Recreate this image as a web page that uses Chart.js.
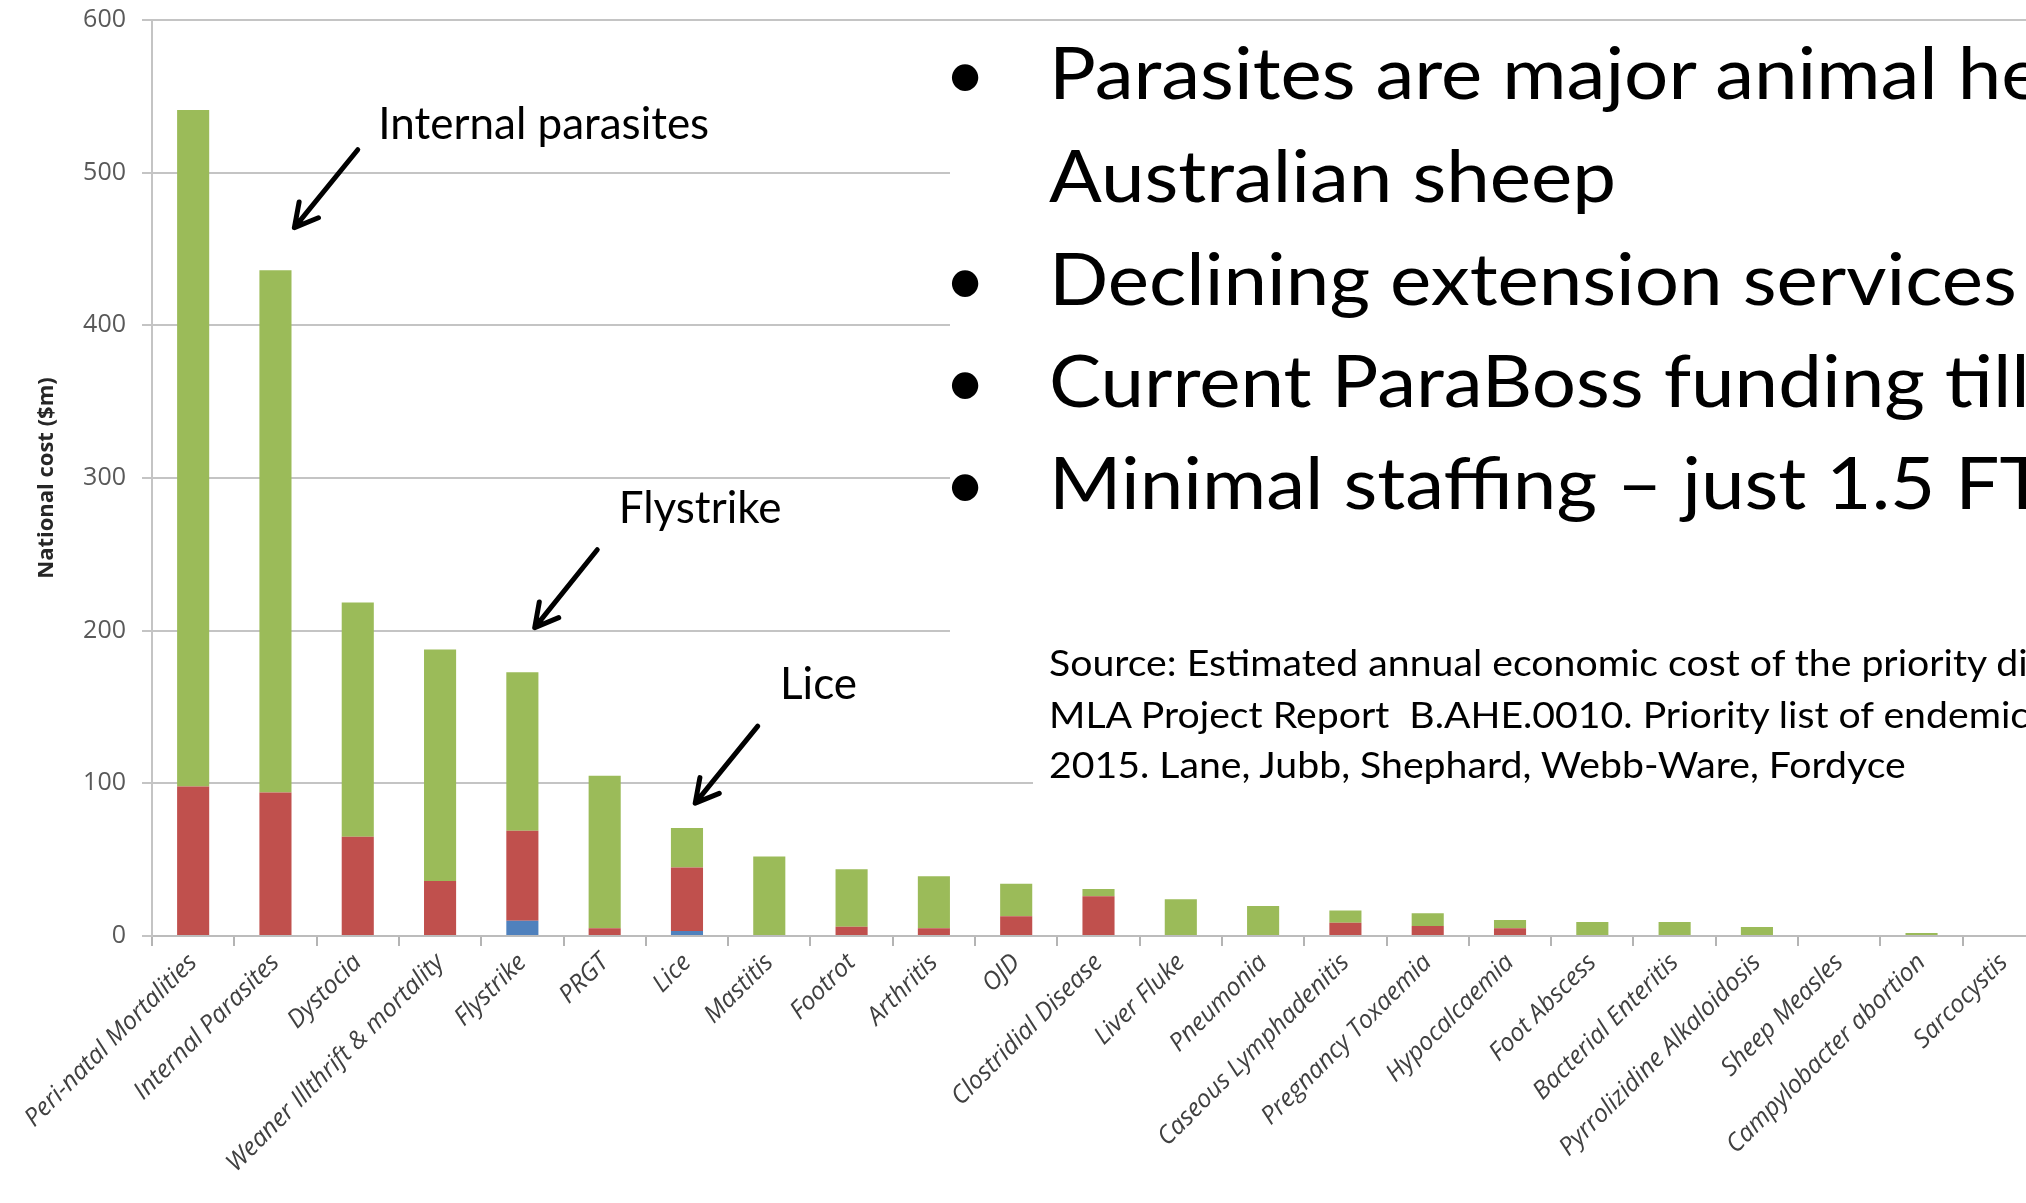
<!DOCTYPE html>
<html>
<head>
<meta charset="utf-8">
<title>National cost of sheep diseases</title>
<script src="https://cdn.jsdelivr.net/npm/chart.js@4.4.1/dist/chart.umd.min.js"></script>
<style>
    html, body { margin: 0; padding: 0; background: #fff; overflow: hidden; }
    #stage { position: relative; width: 2026px; height: 1203px; overflow: hidden; background: #fff; }
    #costChart { position: absolute; left: 0; top: 0; }
    #slideText { position: absolute; left: 0; top: 0; }
</style>
</head>
<body>
<div id="stage">
    <canvas id="costChart" width="2100" height="1203"></canvas>
    <svg id="slideText" width="2026" height="1203" xmlns="http://www.w3.org/2000/svg">
        <!-- text boxes of the slide sit on top of the chart -->
        <rect x="950" y="27" width="1076" height="673" fill="#fff"/>
        <rect x="1033" y="640" width="993" height="160" fill="#fff"/>
        <g font-family="Lato, 'Open Sans', sans-serif" font-size="71" fill="#000" text-anchor="middle">
            <text x="965" y="99">•</text>
            <text x="965" y="305">•</text>
            <text x="965" y="407">•</text>
            <text x="965" y="509">•</text>
        </g>
        <g id="bulletLines" font-family="Lato, 'Open Sans', sans-serif" font-size="71" fill="#000">
            <text x="0" y="99">Parasites are major animal health issues for</text>
            <text x="0" y="202">Australian sheep</text>
            <text id="decliningLine" x="0" y="305">Declining extension services</text>
            <text x="0" y="407">Current ParaBoss funding till</text>
            <text x="0" y="509">Minimal staffing – just 1.5 FTE</text>
        </g>
        <g id="sourceLines" font-family="Lato, 'Open Sans', sans-serif" font-size="36" fill="#000">
            <text x="0" y="676">Source: Estimated annual economic cost of the priority diseases</text>
            <text x="0" y="728" xml:space="preserve">MLA Project Report  B.AHE.0010. Priority list of endemic diseases</text>
            <text id="authorsLine" x="0" y="778">2015. Lane, Jubb, Shephard, Webb-Ware, Fordyce</text>
        </g>
    </svg>
</div>
<script>
// 图表数据
const categories = [
    'Peri-natal Mortalities', 'Internal Parasites', 'Dystocia', 'Weaner Illthrift & mortality',
    'Flystrike', 'PRGT', 'Lice', 'Mastitis', 'Footrot', 'Arthritis', 'OJD',
    'Clostridial Disease', 'Liver Fluke', 'Pneumonia', 'Caseous Lymphadenitis',
    'Pregnancy Toxaemia', 'Hypocalcaemia', 'Foot Abscess', 'Bacterial Enteritis',
    'Pyrrolizidine Alkaloidosis', 'Sheep Measles', 'Campylobacter abortion', 'Sarcocystis'
];
const blueValues  = [0, 0, 0, 0, 10, 0, 3.3, 0, 0, 0, 0, 0, 0, 0, 0, 0, 0, 0, 0, 0, 0, 0, 0];
const redValues   = [98, 94, 65, 36, 59, 5, 41.5, 0, 6, 5, 13, 26, 0, 0, 8.6, 6.5, 5, 0, 0, 0, 0, 0, 0];
const greenValues = [443, 342, 153.5, 151.7, 103.8, 100, 26, 52, 37.8, 34.1, 21.3, 4.8, 24, 19.6, 8.1, 8.4, 5.4, 9.2, 9.2, 5.9, 0, 2, 0];
const yTickValues = [0, 100, 200, 300, 400, 500, 600];

// 箭头标注（数据坐标：类别序号, 数值）
const callouts = [
    { text: 'Internal parasites', from: [2.00, 515], to: [1.23, 464], at: [2.25, 522] },
    { text: 'Flystrike', from: [4.91, 253], to: [4.15, 202], at: [5.17, 270.5] },
    { text: 'Lice', from: [6.86, 137.5], to: [6.10, 87], at: [7.13, 155] }
];

const calloutPlugin = {
    id: 'callouts',
    afterDatasetsDraw(chart) {
        const { ctx, scales: { x, y } } = chart;
        ctx.save();
        ctx.strokeStyle = '#000';
        ctx.fillStyle = '#000';
        ctx.lineWidth = 5;
        ctx.lineCap = 'round';
        ctx.lineJoin = 'round';
        callouts.forEach(c => {
            const x1 = x.getPixelForValue(c.from[0]), y1 = y.getPixelForValue(c.from[1]);
            const x2 = x.getPixelForValue(c.to[0]), y2 = y.getPixelForValue(c.to[1]);
            const ang = Math.atan2(y2 - y1, x2 - x1);
            const head = 26, spread = 0.5;
            ctx.beginPath();
            ctx.moveTo(x1, y1);
            ctx.lineTo(x2, y2);
            ctx.moveTo(x2 - head * Math.cos(ang - spread), y2 - head * Math.sin(ang - spread));
            ctx.lineTo(x2, y2);
            ctx.lineTo(x2 - head * Math.cos(ang + spread), y2 - head * Math.sin(ang + spread));
            ctx.stroke();

            ctx.font = '44px Lato, "Open Sans", sans-serif';
            ctx.textAlign = 'left';
            ctx.textBaseline = 'alphabetic';
            ctx.fillText(c.text, x.getPixelForValue(c.at[0]), y.getPixelForValue(c.at[1]));
        });
        ctx.restore();
    }
};

const ctx = document.getElementById('costChart').getContext('2d');
const costChart = new Chart(ctx, {
    type: 'bar',
    data: {
        labels: categories,
        datasets: [
            { label: 'Series 1', data: blueValues, backgroundColor: '#4f81bd' },
            { label: 'Series 2', data: redValues, backgroundColor: '#c0504d' },
            { label: 'Series 3', data: greenValues, backgroundColor: '#9bbb59' }
        ]
    },
    options: {
        responsive: false,
        animation: false,
        devicePixelRatio: 1,
        layout: { padding: { left: 0, top: 20, right: 55, bottom: 0 } },
        datasets: {
            bar: { barPercentage: 0.39, categoryPercentage: 1.0, borderWidth: 0 }
        },
        plugins: {
            legend: { display: false },
            tooltip: { enabled: false }
        },
        scales: {
            x: {
                stacked: true,
                grid: {
                    display: true,
                    drawOnChartArea: false,
                    drawTicks: true,
                    tickLength: 10,
                    color: '#b4b4b4',
                    lineWidth: 2,
                    offset: true
                },
                border: { color: '#bcbcbc', width: 2 },
                ticks: {
                    autoSkip: false,
                    maxRotation: 45,
                    minRotation: 45,
                    padding: 2,
                    color: '#404040',
                    font: { family: '"Open Sans", sans-serif', size: 25, style: 'italic' }
                },
                afterFit(scale) {
                    scale.height = 267;
                    scale.paddingLeft = 0;
                    scale.paddingRight = 0;
                }
            },
            y: {
                stacked: true,
                min: 0,
                max: 600,
                afterBuildTicks(scale) {
                    scale.ticks = yTickValues.map(v => ({ value: v }));
                },
                grid: { color: '#c4c4c4', lineWidth: 2, tickLength: 10 },
                border: { color: '#c4c4c4', width: 2 },
                ticks: {
                    padding: 16,
                    color: '#595959',
                    font: { family: '"Open Sans", sans-serif', size: 25 }
                },
                title: {
                    display: true,
                    text: 'National cost ($m)',
                    color: '#262626',
                    font: { family: '"Open Sans", sans-serif', size: 22, weight: 'bold' },
                    padding: { top: 34, bottom: 0 }
                },
                afterFit(scale) {
                    scale.width = 152;
                    scale.paddingTop = 0;
                    scale.paddingBottom = 0;
                }
            }
        }
    },
    plugins: [calloutPlugin]
});

// 文本框宽度匹配
function fitGroup(groupId, refId, targetWidth, left) {
    const group = document.getElementById(groupId);
    const ref = document.getElementById(refId);
    const sx = targetWidth / ref.getComputedTextLength();
    group.setAttribute('transform', 'translate(' + left + ' 0) scale(' + sx + ' 1)');
}
fitGroup('bulletLines', 'decliningLine', 968, 1049);
fitGroup('sourceLines', 'authorsLine', 857, 1049);
</script>
</body>
</html>
